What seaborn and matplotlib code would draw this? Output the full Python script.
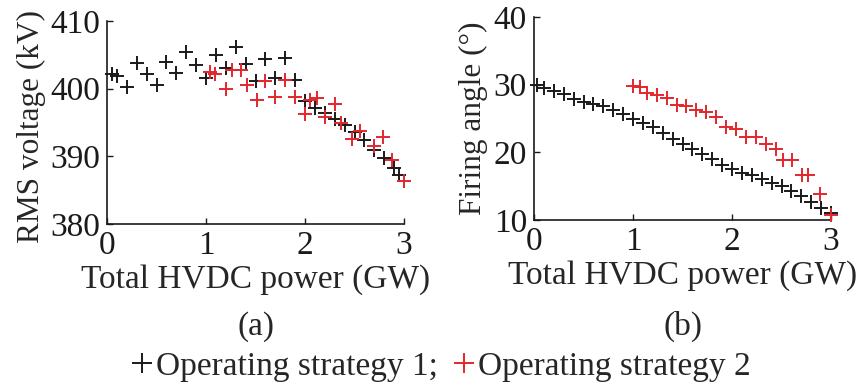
import numpy as np
import pandas as pd
import matplotlib
matplotlib.use('Agg')
import matplotlib.pyplot as plt
import seaborn as sns
from matplotlib.lines import Line2D

# data
# (a) RMS voltage
x1_a = [0.05, 0.1, 0.2, 0.3, 0.4, 0.5, 0.6, 0.7, 0.8, 0.9, 1.0, 1.1, 1.2, 1.3, 1.4, 1.5,
        1.6, 1.7, 1.8, 1.9, 2.0, 2.1, 2.2, 2.3, 2.4, 2.5, 2.6, 2.7, 2.8, 2.9, 2.95]
v1_a = [402.2, 401.8, 400.2, 403.8, 402.2, 400.5, 403.9, 402.3, 405.4, 403.5, 401.6, 404.9,
        403.0, 406.1, 403.7, 401.1, 404.4, 401.5, 404.5, 401.3, 398.2, 397.2, 396.4, 395.5,
        394.6, 393.6, 392.4, 391.0, 389.7, 388.3, 387.3]
x2_a = [1.04, 1.09, 1.2, 1.26, 1.35, 1.41, 1.51, 1.6, 1.7, 1.8, 1.9, 2.0, 2.05, 2.12, 2.2,
        2.3, 2.36, 2.47, 2.55, 2.7, 2.79, 2.88, 3.0]
v2_a = [402.5, 402.2, 399.9, 402.7, 402.8, 400.5, 398.3, 401.2, 398.8, 401.3, 398.8, 396.2,
        398.3, 398.6, 395.8, 397.8, 394.9, 392.5, 393.8, 391.5, 392.8, 389.5, 386.3]

# (b) firing angle
x1_b = [0.03, 0.1, 0.2, 0.3, 0.4, 0.5, 0.6, 0.7, 0.8, 0.9, 1.0, 1.1, 1.2, 1.3, 1.4, 1.5,
        1.6, 1.7, 1.8, 1.9, 2.0, 2.1, 2.2, 2.3, 2.4, 2.5, 2.6, 2.7, 2.8, 2.9, 3.0]
a1_b = [29.9, 29.5, 29.0, 28.6, 27.9, 27.5, 27.1, 26.8, 26.3, 25.6, 25.0, 24.3, 23.7, 22.8,
        22.0, 21.3, 20.5, 19.8, 19.0, 18.2, 17.5, 17.0, 16.6, 16.0, 15.5, 15.0, 14.3, 13.5,
        12.7, 11.8, 11.0]
x2_b = [1.0, 1.07, 1.14, 1.24, 1.34, 1.44, 1.54, 1.64, 1.74, 1.84, 1.94, 2.04, 2.14, 2.24,
        2.34, 2.44, 2.51, 2.61, 2.71, 2.77, 2.89, 3.0]
a2_b = [29.8, 29.6, 28.7, 28.5, 28.0, 27.0, 26.8, 26.2, 26.0, 25.2, 23.8, 23.5, 22.3, 22.3,
        21.2, 20.5, 18.8, 18.8, 16.6, 16.6, 13.9, 10.8]

labels = ['Operating strategy 1;', 'Operating strategy 2']
panel_tags = ['(a)', '(b)']

sns.set_theme(style='white')
plt.rcParams['font.family'] = ['Liberation Serif', 'DejaVu Serif']

black = '#1a1a1a'
red = '#e3262d'
fs = 24

fig = plt.figure(figsize=(8.57, 3.86), dpi=100)
ax1 = fig.add_axes([0.1249, 0.4197, 0.3466, 0.526])
ax2 = fig.add_axes([0.6231, 0.4300, 0.3466, 0.526])


def draw(ax, xa, ya, xb, yb):
    sns.scatterplot(x=xa, y=ya, marker='+', s=115, color=black, linewidth=1.4,
                    ax=ax, clip_on=False, zorder=3)
    sns.scatterplot(x=xb, y=yb, marker='+', s=115, color=red, linewidth=1.4,
                    ax=ax, clip_on=False, zorder=3)


draw(ax1, x1_a, v1_a, x2_a, v2_a)
draw(ax2, x1_b, a1_b, x2_b, a2_b)

ax1.set_ylim(380, 410)
ax1.set_yticks([380, 390, 400, 410])
ax1.set_ylabel('RMS voltage (kV)', fontsize=fs - 1.5)
ax1.yaxis.set_label_coords(-0.205, 0.48)
ax2.set_ylim(10, 40)
ax2.set_yticks([10, 20, 30, 40])
ax2.set_ylabel('Firing angle (°)', fontsize=fs - 1.5, labelpad=4)

for ax, tag in zip([ax1, ax2], panel_tags):
    ax.set_xlim(0, 3)
    ax.set_xticks([0, 1, 2, 3])
    ax.set_xlabel('Total HVDC power (GW)', fontsize=fs, labelpad=2)
    ax.tick_params(direction='in', length=4, width=1, labelsize=fs, pad=5,
                   left=True, bottom=True, colors=black)
    for s in ['top', 'right']:
        ax.spines[s].set_visible(False)
    for s in ['left', 'bottom']:
        ax.spines[s].set_color(black)
        ax.spines[s].set_linewidth(1.2)
    pos = ax.get_position()
    fig.text(pos.x0 + pos.width / 2, 0.155, tag, ha='center', va='center', fontsize=fs)

handles = [Line2D([], [], ls='none', marker='+', ms=14, mew=1.4, color=black),
           Line2D([], [], ls='none', marker='+', ms=14, mew=1.4, color=red)]
fig.legend(handles, labels, loc='center', bbox_to_anchor=(0.515, 0.05), ncol=2,
           frameon=False, fontsize=fs, handlelength=0.6, handletextpad=0.1,
           columnspacing=0.5, borderpad=0)

fig.savefig('out.png', dpi=100)
